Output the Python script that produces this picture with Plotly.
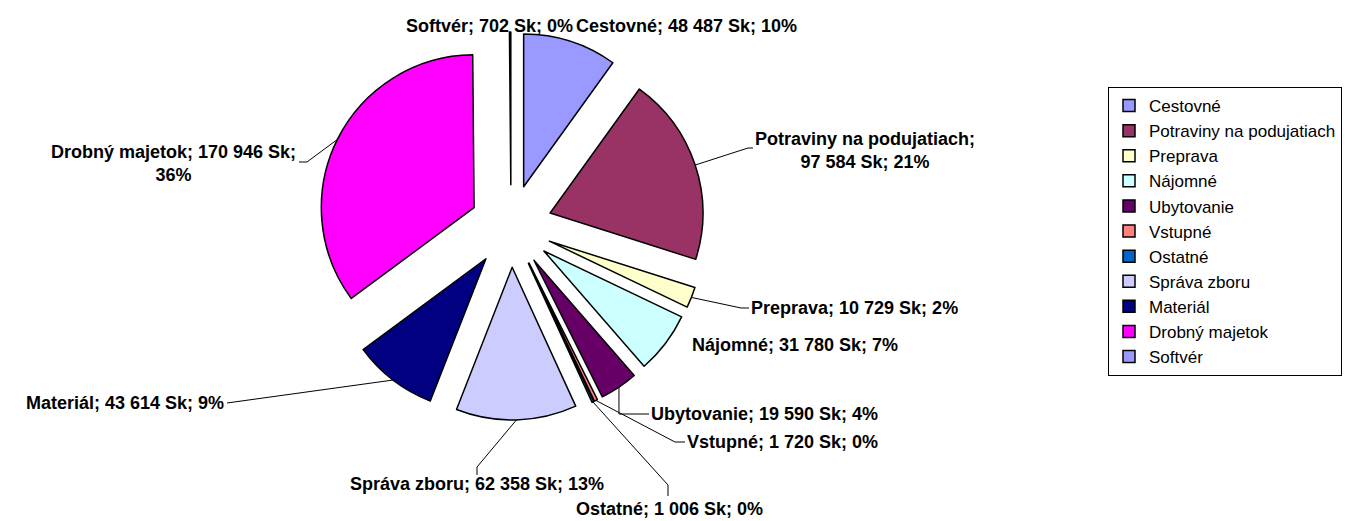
import math
import plotly.graph_objects as go

# Data
labels = ["Cestovné", "Potraviny na podujatiach", "Preprava", "Nájomné", "Ubytovanie",
          "Vstupné", "Ostatné", "Správa zboru", "Materiál", "Drobný majetok", "Softvér"]
values = [48487, 97584, 10729, 31780, 19590, 1720, 1006, 62358, 43614, 170946, 702]
percents = [10, 21, 2, 7, 4, 0, 0, 13, 9, 36, 0]
colors = ["#9999FF", "#993366", "#FFFFCC", "#CCFFFF", "#660066", "#FF8080",
          "#0066CC", "#CCCCFF", "#000080", "#FF00FF", "#9999FF"]

W, H = 1345, 521
cx, cy = 511, 226          # pie centre in pixels
outer = 194                # radius incl. pull
pull = 0.27


def px(x):
    return x / W


def py(y):
    return 1 - y / H


def fmt(v):
    return f"{v:,}".replace(",", " ")


texts = [f"{l}; {fmt(v)} Sk; {p}%" for l, v, p in zip(labels, values, percents)]
texts[1] = f"{labels[1]};<br>{fmt(values[1])} Sk; {percents[1]}%"
texts[9] = f"{labels[9]}; {fmt(values[9])} Sk;<br>{percents[9]}%"

fig = go.Figure(go.Pie(
    labels=labels, values=values, sort=False, direction="clockwise", rotation=0,
    pull=[pull] * len(values), textinfo="none",
    marker=dict(colors=colors, line=dict(color="black", width=1.5)),
    domain=dict(x=[px(cx - outer), px(cx + outer)], y=[py(cy + outer), py(cy - outer)]),
))

# mid angle of each slice -> point on the outer arc (for leader lines)
total = sum(values)
anchors = []
cum = 0
for v in values:
    mid = math.radians(360 * (cum + v / 2) / total)
    anchors.append((cx + outer * math.sin(mid), cy - outer * math.cos(mid)))
    cum += v

# label placement: (x, y, xanchor)
label_pos = {
    0: (574, 26, "left"),
    1: (753, 150, "left"),
    2: (749, 308, "left"),
    3: (690, 345, "left"),
    4: (649, 414, "left"),
    5: (685, 442, "left"),
    6: (669, 509, "center"),
    7: (477, 484, "center"),
    8: (226, 403, "right"),
    9: (298, 163, "right"),
    10: (575, 26, "right"),
}

annotations = []
for i, (x, y, xa) in label_pos.items():
    annotations.append(dict(
        x=px(x), y=py(y), xref="paper", yref="paper", text=texts[i], showarrow=False,
        xanchor=xa, yanchor="middle", align="center",
        font=dict(family="Arial, Liberation Sans", size=18, color="black", weight="bold"),
    ))

# leader lines: slice anchor -> elbow -> label
ax, ay = anchors[4]
leaders = {
    1: [(748, 148), (753, 148)],
    2: [(741, 308), (749, 308)],
    4: [(ax, 414), (649, 414)],
    5: [(675, 442), (685, 442)],
    6: [(668, 485), (668, 496)],
    7: [(477, 467), (477, 475)],
    8: [(227, 403)],
    9: [(307, 162), (299, 162)],
}
shapes = []
for i, pts in leaders.items():
    path = [anchors[i]] + pts
    d = "M " + " L ".join(f"{px(x):.5f},{py(y):.5f}" for x, y in path)
    shapes.append(dict(type="path", path=d, xref="paper", yref="paper",
                       line=dict(color="black", width=1)))

fig.update_layout(
    width=W, height=H,
    margin=dict(l=0, r=0, t=0, b=0),
    paper_bgcolor="white", plot_bgcolor="white",
    annotations=annotations, shapes=shapes,
    showlegend=True,
    legend=dict(
        x=px(1108), y=py(87), xanchor="left", yanchor="top",
        bordercolor="black", borderwidth=1, bgcolor="white",
        font=dict(family="Arial, Liberation Sans", size=17, color="black"),
        traceorder="normal",
    ),
)

# drop the default body margin so the figure sits at the window's top-left
fig.write_html("out.html", config={"displayModeBar": False},
               post_script="document.body.style.margin='0';")
